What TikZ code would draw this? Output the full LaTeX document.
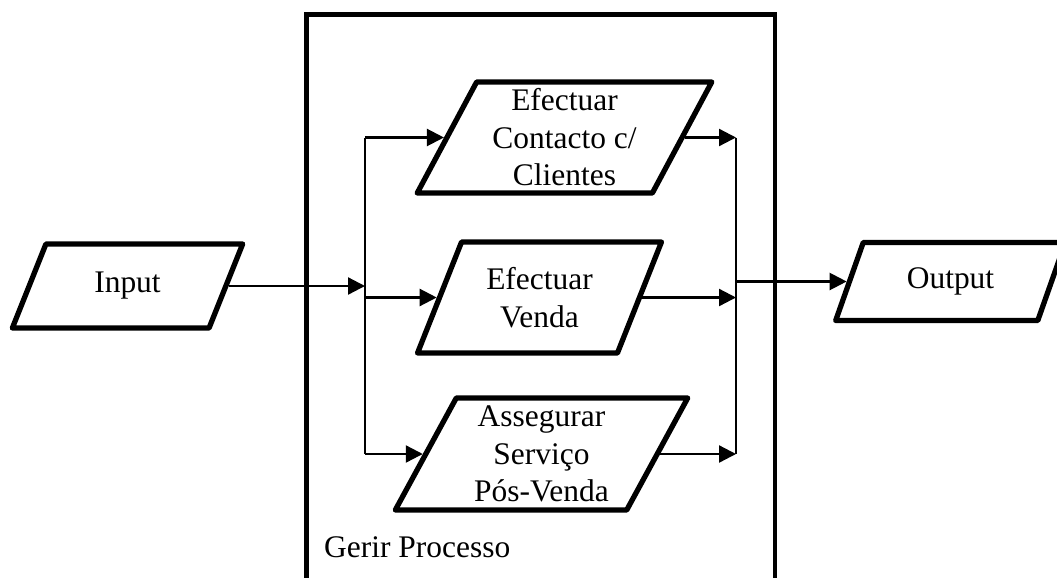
\documentclass[tikz,border=0pt]{standalone}
\usepackage{fontspec}
\setmainfont{Liberation Serif}
\usepackage{tikz}
\usetikzlibrary{arrows.meta,shapes.geometric,positioning}

\begin{document}
\begin{tikzpicture}[
  font=\fontsize{17.9}{21.3}\selectfont,
  proc/.style={draw,line width=3pt,line join=round,trapezium,
    trapezium left angle=63.4,trapezium right angle=116.6,
    trapezium stretches=true,inner sep=0pt,align=center},
  flow/.style={line width=1.3pt,-{Triangle[length=0.34cm,width=0.34cm]}}]
\useasboundingbox (0,0) rectangle (21.14,-11.54);
% the process frame, open below
\draw[line width=2.8pt] (6.13,-12) -- (6.13,-0.29) -- (15.5,-0.29) -- (15.5,-12);
\node[anchor=base west] (gerir) at (6.36,-11.14) {Gerir Processo};

\node[proc,minimum width=5.9cm,minimum height=2.22cm] (contacto) at (11.29,-2.75) {Efectuar\\Contacto c/\\Clientes};
\node[proc,minimum width=4.9cm,minimum height=2.22cm] (venda) at (10.79,-5.95) {Efectuar\\Venda};
\node[proc,minimum width=5.86cm,minimum height=2.24cm] (servico) at (10.83,-9.08) {Assegurar\\Serviço\\Pós-Venda};
\node[proc,minimum width=4.62cm,minimum height=1.68cm] (input) at (2.55,-5.72) {Input};
\node[proc,minimum width=4.62cm,minimum height=1.56cm] (output) at (19.01,-5.63) {Output};

\coordinate (lbus) at (7.3,0);
\coordinate (rbus) at (14.72,0);

% split
\draw[flow] (input.east) -- (input.east -| lbus);
\draw[line width=1.3pt] (lbus |- contacto.west) -- (lbus |- servico.west);
\draw[flow] (lbus |- contacto.west) -- (contacto.west);
\draw[flow] (lbus |- venda.west) -- (venda.west);
\draw[flow] (lbus |- servico.west) -- (servico.west);
% join
\draw[line width=1.3pt] (rbus |- contacto.east) -- (rbus |- servico.east);
\draw[flow] (contacto.east) -- (contacto.east -| rbus);
\draw[flow] (venda.east) -- (venda.east -| rbus);
\draw[flow] (servico.east) -- (servico.east -| rbus);
\draw[flow] (rbus |- output.west) -- (output.west);
\end{tikzpicture}
\end{document}
